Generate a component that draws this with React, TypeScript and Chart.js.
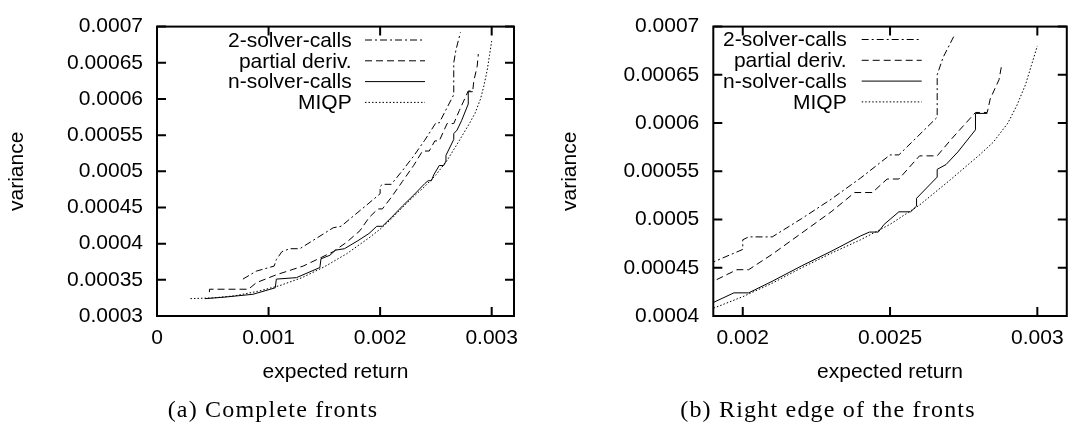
import React, { useEffect, useRef } from "react";
import { Chart, registerables } from "chart.js";

Chart.register(...registerables);

// ---------- data ----------
const seriesNames = ["2-solver-calls", "partial deriv.", "n-solver-calls", "MIQP"];

const twoSolverX = [0.00077, 0.00089, 0.00105, 0.00107, 0.00112, 0.00119, 0.00128, 0.00158, 0.00165, 0.0019, 0.002, 0.002, 0.00202, 0.0021, 0.0022, 0.0023, 0.0024, 0.0025, 0.00253, 0.00266, 0.00266, 0.00268, 0.00272];
const twoSolverY = [0.000351, 0.000362, 0.000369, 0.000378, 0.000389, 0.000393, 0.000393, 0.000422, 0.000424, 0.000456, 0.000469, 0.000479, 0.000482, 0.000482, 0.000501, 0.000521, 0.000543, 0.000567, 0.000567, 0.000606, 0.00065, 0.000668, 0.000692];

const partialX = [0.00047, 0.00047, 0.00082, 0.00089, 0.00107, 0.00131, 0.00146, 0.00158, 0.0017, 0.00182, 0.0019, 0.00198, 0.00202, 0.0021, 0.0022, 0.0023, 0.00238, 0.00244, 0.00249, 0.00253, 0.0026, 0.00266, 0.00271, 0.00279, 0.00283, 0.00284, 0.00287, 0.00288];
const partialY = [0.000333, 0.000337, 0.000337, 0.000346, 0.000357, 0.000369, 0.00038, 0.000389, 0.000402, 0.000418, 0.000436, 0.000448, 0.000448, 0.000464, 0.000486, 0.000508, 0.000528, 0.000528, 0.000542, 0.000542, 0.000566, 0.000566, 0.000584, 0.000611, 0.000611, 0.000625, 0.000645, 0.000662];

const nSolverX = [0.00043, 0.0006, 0.00086, 0.00106, 0.00107, 0.00125, 0.00146, 0.00147, 0.00155, 0.0016, 0.00168, 0.0018, 0.0019, 0.00197, 0.00202, 0.0021, 0.0022, 0.0023, 0.0024, 0.00243, 0.00246, 0.00248, 0.00253, 0.00257, 0.00259, 0.00259, 0.00266, 0.00266, 0.00269, 0.00273, 0.00279, 0.00279, 0.00283];
const nSolverY = [0.000324, 0.000326, 0.00033, 0.000339, 0.000351, 0.000353, 0.000367, 0.000379, 0.000384, 0.000391, 0.000393, 0.000404, 0.000414, 0.000424, 0.000424, 0.000436, 0.000452, 0.000467, 0.000483, 0.000487, 0.000487, 0.000495, 0.000508, 0.000508, 0.000514, 0.000522, 0.000544, 0.000552, 0.000557, 0.00057, 0.000593, 0.00061, 0.00061];

const miqpX = [0.0003, 0.0005, 0.0007, 0.0009, 0.0011, 0.0013, 0.0015, 0.0017, 0.0019, 0.002, 0.0021, 0.0022, 0.0023, 0.0024, 0.0025, 0.0026, 0.0027, 0.0028, 0.00285, 0.0029, 0.00293, 0.00296, 0.00298, 0.003];
const miqpY = [0.000324, 0.000325, 0.000328, 0.000334, 0.000342, 0.000353, 0.000368, 0.000386, 0.000408, 0.00042, 0.000434, 0.00045, 0.000465, 0.000479, 0.000495, 0.000515, 0.00054, 0.000566, 0.00058, 0.0006, 0.000618, 0.00064, 0.00066, 0.00068];

const leftXTicks = [0, 0.001, 0.002, 0.003];
const leftYTicks = [0.0003, 0.00035, 0.0004, 0.00045, 0.0005, 0.00055, 0.0006, 0.00065, 0.0007];
const rightXTicks = [0.002, 0.0025, 0.003];
const rightYTicks = [0.0004, 0.00045, 0.0005, 0.00055, 0.0006, 0.00065, 0.0007];

const xTitle = "expected return";
const yTitle = "variance";
const captions = ["(a) Complete fronts", "(b) Right edge of the fronts"];

// ---------- styling ----------
const FONT = "'Liberation Sans', Arial, Helvetica, sans-serif";
const FS = 21;
const dashes = [[7, 3, 2, 3], [7, 4], [], [1.5, 2]];

const toPts = (xs: number[], ys: number[]) => xs.map((x, i) => ({ x, y: ys[i] }));
const fmt = (v: any) => String(+Number(v).toFixed(6));

function makeFramePlugin(lg: any) {
  return {
    id: "gnuFrame",
    afterDatasetsDraw(chart: any) {
      const { ctx, chartArea: a, scales } = chart;
      ctx.save();
      ctx.strokeStyle = "#000";
      ctx.lineWidth = 2;
      ctx.setLineDash([]);
      ctx.strokeRect(a.left, a.top, a.right - a.left, a.bottom - a.top);
      const L = 9;
      ctx.beginPath();
      for (const t of scales.x.ticks) {
        const px = scales.x.getPixelForValue(t.value);
        ctx.moveTo(px, a.bottom);
        ctx.lineTo(px, a.bottom - L);
        ctx.moveTo(px, a.top);
        ctx.lineTo(px, a.top + L);
      }
      for (const t of scales.y.ticks) {
        const py = scales.y.getPixelForValue(t.value);
        ctx.moveTo(a.left, py);
        ctx.lineTo(a.left + L, py);
        ctx.moveTo(a.right, py);
        ctx.lineTo(a.right - L, py);
      }
      ctx.stroke();
      // legend
      ctx.font = `${FS}px ${FONT}`;
      ctx.textAlign = "right";
      ctx.textBaseline = "middle";
      chart.data.datasets.forEach((ds: any, i: number) => {
        const y = lg.y0 + i * lg.dy;
        ctx.fillStyle = "#000";
        ctx.fillText(ds.label, lg.textRight, y + 1);
        ctx.setLineDash(ds.borderDash || []);
        ctx.lineWidth = ds.borderWidth;
        ctx.beginPath();
        ctx.moveTo(lg.x0, y);
        ctx.lineTo(lg.x1, y);
        ctx.stroke();
      });
      ctx.restore();
    },
  };
}

function FrontChart(props: any) {
  const { left, width, xMin, xMax, yMin, yMax, xTicks, yTicks, yAxisW, padRight, yTitlePad, legend } = props;
  const ref = useRef<HTMLCanvasElement>(null);
  useEffect(() => {
    const xsList = [twoSolverX, partialX, nSolverX, miqpX];
    const ysList = [twoSolverY, partialY, nSolverY, miqpY];
    const chart = new Chart(ref.current as HTMLCanvasElement, {
      type: "scatter",
      data: {
        datasets: seriesNames.map((name, i) => ({
          label: name,
          data: toPts(xsList[i], ysList[i]),
          showLine: true,
          pointRadius: 0,
          borderColor: "#000",
          backgroundColor: "#000",
          borderWidth: 1,
          borderDash: dashes[i],
          fill: false,
          tension: 0,
        })),
      },
      options: {
        responsive: false,
        animation: false,
        devicePixelRatio: 1,
        events: [],
        layout: { autoPadding: false, padding: { left: 0, top: 18, right: padRight, bottom: 44 } },
        plugins: { legend: { display: false }, tooltip: { enabled: false } },
        scales: {
          x: {
            type: "linear",
            min: xMin,
            max: xMax,
            grid: { display: false, drawTicks: false },
            border: { display: false },
            afterBuildTicks: (s: any) => { s.ticks = xTicks.map((v: number) => ({ value: v })); },
            afterFit: (s: any) => { s.height = 69; },
            ticks: { color: "#000", padding: 10, font: { family: FONT, size: FS }, callback: fmt, maxRotation: 0, autoSkip: false },
            title: { display: true, text: xTitle, color: "#000", font: { family: FONT, size: FS }, padding: { top: 0, bottom: 0 } },
          },
          y: {
            type: "linear",
            min: yMin,
            max: yMax,
            grid: { display: false, drawTicks: false },
            border: { display: false },
            afterBuildTicks: (s: any) => { s.ticks = yTicks.map((v: number) => ({ value: v })); },
            afterFit: (s: any) => { s.width = yAxisW; },
            ticks: { color: "#000", padding: 14, font: { family: FONT, size: FS }, callback: fmt, autoSkip: false },
            title: { display: true, text: yTitle, color: "#000", font: { family: FONT, size: FS }, padding: { top: yTitlePad, bottom: 0 } },
          },
        },
      },
      plugins: [makeFramePlugin(legend)],
    } as any);
    return () => chart.destroy();
  }, []);
  return (
    <canvas
      ref={ref}
      width={width}
      height={429}
      style={{ position: "absolute", left, top: 0, width, height: 429 }}
    />
  );
}

const capStyle = (cx: number): React.CSSProperties => ({
  position: "absolute",
  left: cx - 250,
  width: 500,
  top: 395,
  height: 28,
  lineHeight: "28px",
  textAlign: "center",
  fontFamily: "'Liberation Serif', 'Times New Roman', serif",
  fontSize: 24,
  letterSpacing: 1.2,
  color: "#000",
  whiteSpace: "nowrap",
});

export default function App() {
  return (
    <div style={{ position: "absolute", left: 0, top: 0, width: 1074, height: 429, background: "#fff", overflow: "hidden" }}>
      <FrontChart
        left={0}
        width={540}
        xMin={0}
        xMax={0.0032}
        yMin={0.0003}
        yMax={0.0007}
        xTicks={leftXTicks}
        yTicks={leftYTicks}
        yAxisW={157}
        padRight={26}
        yTitlePad={4.4}
        legend={{ y0: 40, dy: 20.8, textRight: 351.7, x0: 365, x1: 425 }}
      />
      <FrontChart
        left={540}
        width={534}
        xMin={0.0019}
        xMax={0.0031}
        yMin={0.0004}
        yMax={0.0007}
        xTicks={rightXTicks}
        yTicks={rightYTicks}
        yAxisW={173.3}
        padRight={4.7}
        yTitlePad={18}
        legend={{ y0: 39.5, dy: 20.8, textRight: 306.7, x0: 321.7, x1: 381.7 }}
      />
      <div style={capStyle(273)}>{captions[0]}</div>
      <div style={capStyle(828)}>{captions[1]}</div>
    </div>
  );
}
